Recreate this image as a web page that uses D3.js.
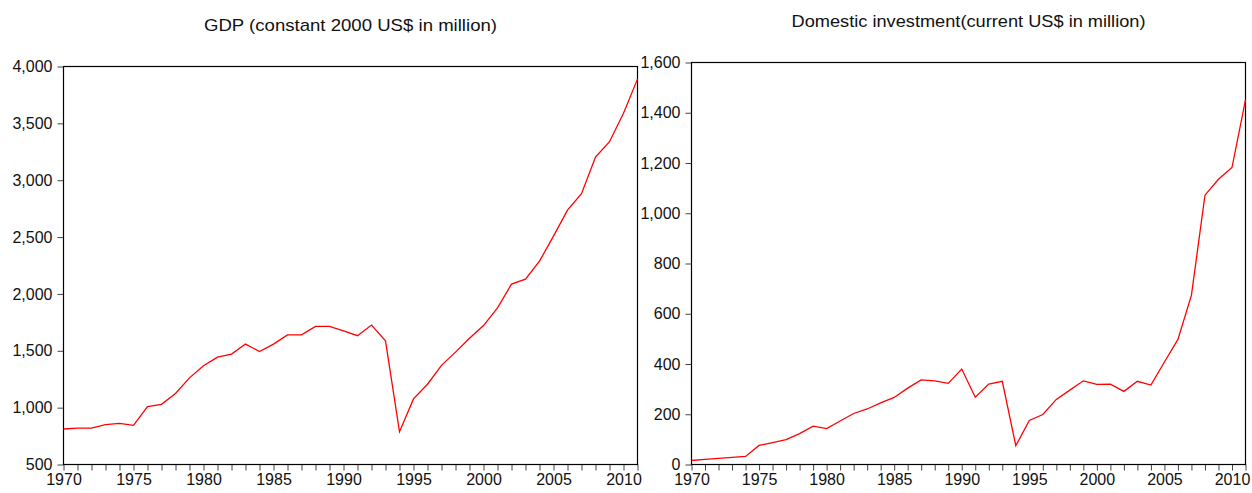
<!DOCTYPE html>
<html>
<head>
<meta charset="utf-8">
<script src="https://cdn.jsdelivr.net/npm/d3@7"></script>
<style>
  body { margin: 0; background: #fff; }
  svg { display: block; }
  .title { font-family: "Liberation Sans Narrow", "Liberation Sans", Arial, sans-serif; font-size: 17px; fill: #111; }
  .tick text { font-family: "Liberation Sans", Arial, sans-serif; font-size: 16px; fill: #111; }
</style>
</head>
<body>
<script>
// data
var years = d3.range(1970, 2012);

var gdp = [812, 820, 820, 850, 862, 844, 1009, 1029, 1124, 1262,
           1368, 1444, 1471, 1559, 1494, 1559, 1640, 1640, 1715, 1715,
           1676, 1633, 1726, 1588, 788, 1077, 1206, 1372, 1488, 1610,
           1722, 1877, 2086, 2130, 2288, 2508, 2737, 2881, 3204, 3339,
           3589, 3889];

var investment = [16, 20, 24, 28, 32, 76, 87, 99, 123, 153,
                  143, 173, 203, 221, 245, 267, 304, 337, 333, 323,
                  380, 268, 320, 331, 75, 175, 199, 259, 296, 333,
                  319, 320, 291, 331, 316, 408, 498, 674, 1072, 1135,
                  1182, 1451];

var gdpTicks = [500, 1000, 1500, 2000, 2500, 3000, 3500, 4000];
var invTicks = [0, 200, 400, 600, 800, 1000, 1200, 1400, 1600];
var yearLabels = [1970, 1975, 1980, 1985, 1990, 1995, 2000, 2005, 2010];

var titles = ["GDP (constant 2000 US$ in million)", "Domestic investment(current US$ in million)"];

var width = 1252, height = 493;

var svg = d3.select("body").append("svg")
    .attr("width", width)
    .attr("height", height);

var panels = [
  {values: gdp, ticks: gdpTicks, domain: [500, 4000], title: titles[0],
   left: 63.5, right: 637.5, top: 66.5, bottom: 464.5, titleY: 31, titleW: 293},
  {values: investment, ticks: invTicks, domain: [0, 1600], title: titles[1],
   left: 691.5, right: 1245.5, top: 62.5, bottom: 464.5, titleY: 27, titleW: 354}
];

panels.forEach(function(p){
    var x = d3.scaleLinear().domain([1970, 2011]).range([p.left, p.right]);
    var y = d3.scaleLinear().domain(p.domain).range([p.bottom, p.top]);

    var g = svg.append("g");

    //x axis: a tick every year, labels every 5 years
    var xAxis = d3.axisBottom(x)
        .tickValues(years)
        .tickSize(6)
        .tickFormat(function(d){ return yearLabels.indexOf(d) >= 0 ? d : ""; });
    var gx = g.append("g")
        .attr("transform", "translate(0," + p.bottom + ")")
        .call(xAxis);
    gx.select(".domain").remove();
    gx.selectAll(".tick line").attr("stroke", "#444");
    gx.selectAll(".tick text").attr("dy", "0.72em").attr("y", 9);

    //y axis
    var yAxis = d3.axisLeft(y)
        .tickValues(p.ticks)
        .tickSize(6)
        .tickPadding(5)
        .tickFormat(d3.format(","));
    var gy = g.append("g")
        .attr("transform", "translate(" + p.left + ",0)")
        .call(yAxis);
    gy.select(".domain").remove();
    gy.selectAll(".tick line").attr("stroke", "#444");

    //frame
    g.append("rect")
        .attr("x", p.left)
        .attr("y", p.top)
        .attr("width", p.right - p.left)
        .attr("height", p.bottom - p.top)
        .attr("fill", "none")
        .attr("stroke", "#000")
        .attr("stroke-width", 1.2);

    //series
    var line = d3.line()
        .x(function(d, i){ return x(years[i]); })
        .y(function(d){ return y(d); });
    g.append("path")
        .datum(p.values)
        .attr("fill", "none")
        .attr("stroke", "#ff0000")
        .attr("stroke-width", 1.3)
        .attr("d", line);

    //title
    g.append("text")
        .attr("class", "title")
        .attr("x", (p.left + p.right) / 2)
        .attr("y", p.titleY)
        .attr("text-anchor", "middle")
        .attr("textLength", p.titleW)
        .attr("lengthAdjust", "spacingAndGlyphs")
        .text(p.title);
});
</script>
</body>
</html>
